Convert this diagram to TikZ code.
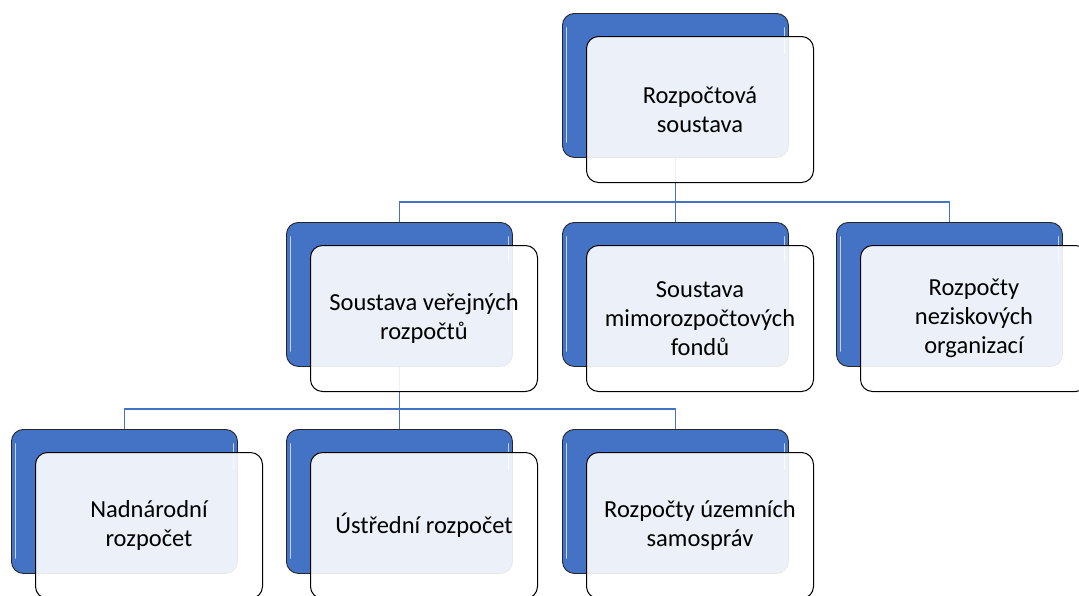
\documentclass[tikz,border=0pt]{standalone}
\usepackage{fontspec}
\setmainfont{Carlito}
\usetikzlibrary{backgrounds}
\definecolor{accent}{HTML}{4472C4}
\newcommand\orgbox[4]{%
  \node[backbox] (#1b) at (#2,#3) {};
  \draw[gloss] ([xshift=4.5pt,yshift=-15pt]#1b.north west) -- ([xshift=4.5pt,yshift=16pt]#1b.south west);
  \draw[gloss] ([xshift=-4.5pt,yshift=-15pt]#1b.north east) -- ([xshift=-4.5pt,yshift=-40pt]#1b.north east);
  \node[frontbox] (#1) at ([xshift=24pt,yshift=-23pt]#1b.north west) {#4};
}
\begin{document}
\begin{tikzpicture}[x=1pt,y=-1pt,
  backbox/.style={draw=black!85, line width=0.9pt, fill=accent, rounded corners=12pt,
    minimum width=226pt, minimum height=144pt, anchor=north west, inner sep=0pt},
  frontbox/.style={draw=black, line width=1pt, fill=white, fill opacity=0.9, text opacity=1,
    rounded corners=12pt, minimum width=227pt, minimum height=146pt, anchor=north west,
    align=center, font=\fontsize{24.5}{29}\selectfont, text=black, inner sep=0pt},
  conn/.style={draw=accent, line width=1.3pt},
  gloss/.style={draw=white, draw opacity=0.7, line width=1.8pt, line cap=round}]
\useasboundingbox (0,0) rectangle (1079,595);
\clip (0,0) rectangle (1079,595);
\orgbox{top}{562}{13}{Rozpočtová\\soustava}
\orgbox{m1}{286}{222}{Soustava veřejných\\rozpočtů}
\orgbox{m2}{562}{222}{Soustava\\mimorozpočtových\\fondů}
\orgbox{m3}{836}{222}{Rozpočty\\neziskových\\organizací}
\orgbox{l1}{11}{429}{Nadnárodní\\rozpočet}
\orgbox{l2}{286}{429}{Ústřední rozpočet}
\orgbox{l3}{562}{429}{Rozpočty územních\\samospráv}
\coordinate (bar1) at (0,202);
\coordinate (bar2) at (0,409);
\begin{pgfonlayer}{background}
\fill[white] (0,0) rectangle (1079,595);
\draw[conn] (topb.south) -- (topb.south |- bar1) -| (m1b.north);
\draw[conn] (topb.south |- bar1) -| (m3b.north);
\draw[conn] (topb.south |- bar1) -- (m2b.north);
\draw[conn] (m1b.south) -- (m1b.south |- bar2) -| (l1b.north);
\draw[conn] (m1b.south |- bar2) -| (l3b.north);
\draw[conn] (m1b.south |- bar2) -- (l2b.north);
\end{pgfonlayer}
\end{tikzpicture}
\end{document}
